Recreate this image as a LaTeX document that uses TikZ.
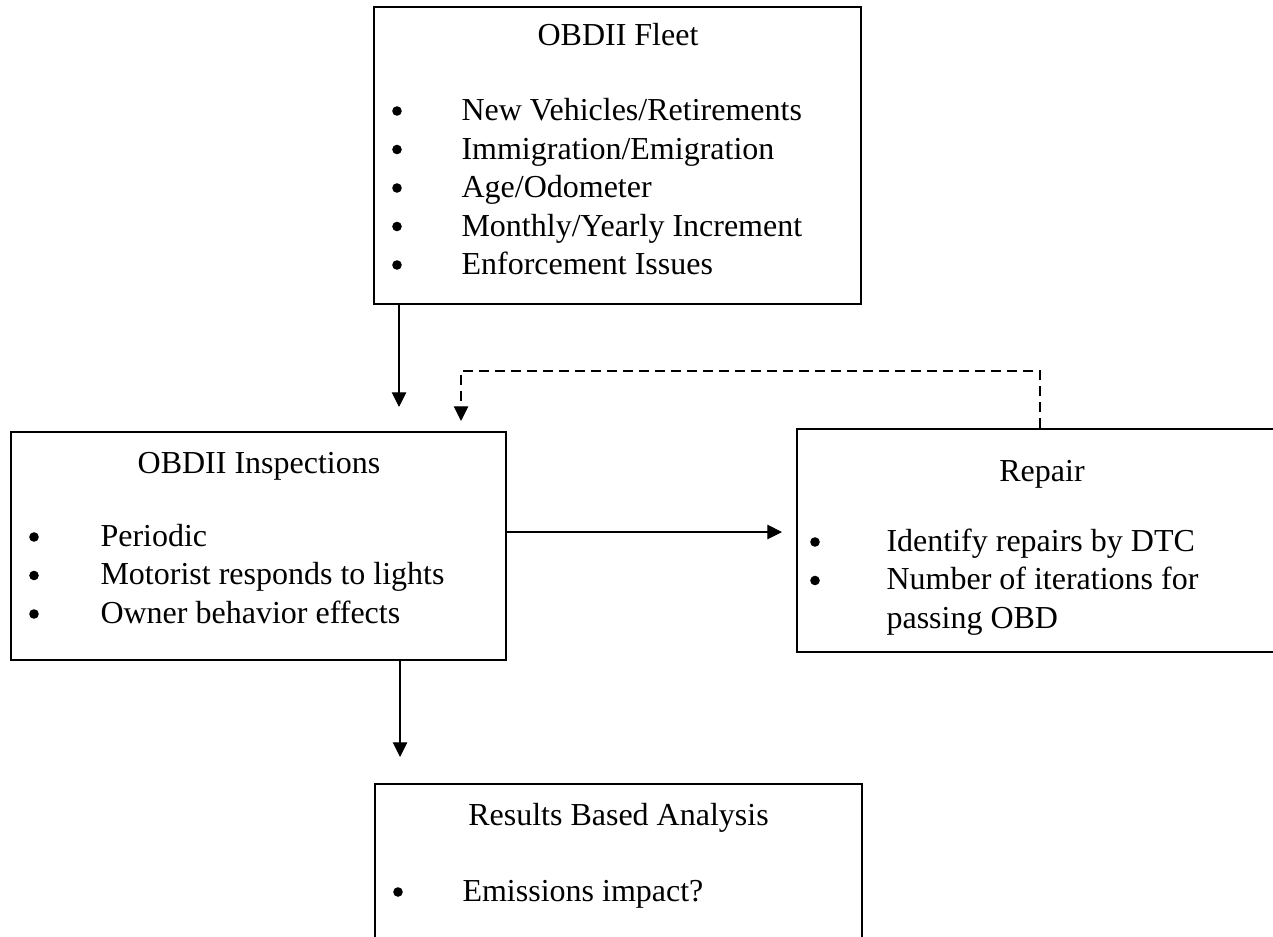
\documentclass[tikz,border=0pt]{standalone}
\usepackage{fontspec}
\setmainfont{Liberation Serif}
\usetikzlibrary{arrows.meta,fit}
\newcommand{\bodyfs}{\fontsize{12pt}{14.4pt}\selectfont}
\begin{document}
\begin{tikzpicture}[x=0.375pt,y=-0.375pt,
  box/.style={draw,line width=0.55pt,inner sep=0pt,rectangle},
  ttl/.style={inner sep=0pt,anchor=base,font=\bodyfs},
  itm/.style={inner sep=0pt,anchor=base west,font=\bodyfs},
  bul/.style={circle,fill=black,inner sep=0pt,minimum size=3.6pt},
  arr/.style={line width=0.4pt,-{Triangle[length=5.5pt,width=5.4pt]}},
  dsh/.style={line width=0.4pt,dash pattern=on 4pt off 2pt,-{Triangle[length=5.5pt,width=5.4pt]}}]
\useasboundingbox (0,0) rectangle (1273,937);
\clip (0,0) rectangle (1273,937);

% boxes
\node[box,fit={(374,7) (861,304)}] (fleet) {};
\node[box,fit={(11,432) (506,660)}] (insp) {};
\node[box,fit={(797,429) (1300,652)}] (repair) {};
\node[box,fit={(375,784) (862,980)}] (results) {};

% fleet text
\node[ttl] (fleetT) at (618,46) {OBDII Fleet};
\node[bul] (fb1) at (397,111) {};
\node[itm] (fi1) at (461,121) {New Vehicles/Retirements};
\node[bul] (fb2) at (397,149.5) {};
\node[itm] (fi2) at (461,159.5) {Immigration/Emigration};
\node[bul] (fb3) at (397,188) {};
\node[itm] (fi3) at (461,198) {Age/Odometer};
\node[bul] (fb4) at (397,226.5) {};
\node[itm] (fi4) at (461,236.5) {Monthly/Yearly Increment};
\node[bul] (fb5) at (397,265) {};
\node[itm] (fi5) at (461,275) {Enforcement Issues};

% inspections text
\node[ttl] (inspT) at (259,473) {OBDII Inspections};
\node[bul] (ib1) at (34,537) {};
\node[itm] (ii1) at (100,546) {Periodic};
\node[bul] (ib2) at (34,575.5) {};
\node[itm] (ii2) at (100,584.5) {Motorist responds to lights};
\node[bul] (ib3) at (34,614) {};
\node[itm] (ii3) at (100,623) {Owner behavior effects};

% repair text
\node[ttl] (repT) at (1042,481) {Repair};
\node[bul] (rb1) at (815,542) {};
\node[itm] (ri1) at (886,551) {Identify repairs by DTC};
\node[bul] (rb2) at (815,580.5) {};
\node[itm] (ri2) at (886,589.5) {Number of iterations for};
\node[itm] (ri3) at (886,628) {passing OBD};

% results text
\node[ttl] (resT) at (618.5,825) {Results Based Analysis};
\node[bul] (sb1) at (398,892) {};
\node[itm] (si1) at (462,901) {Emissions impact?};

% connectors
\coordinate (t1) at (399,407);
\coordinate (t2) at (461,421);
\coordinate (d1) at (1040,371);
\coordinate (t3) at (782,532);
\coordinate (t4) at (400,757);
\draw[arr] (fleet.south -| t1) -- (t1);
\draw[dsh] (repair.north -| d1) -- (d1) -| (t2);
\draw[arr] (insp.east |- t3) -- (t3);
\draw[arr] (insp.south -| t4) -- (t4);
\end{tikzpicture}
\end{document}
